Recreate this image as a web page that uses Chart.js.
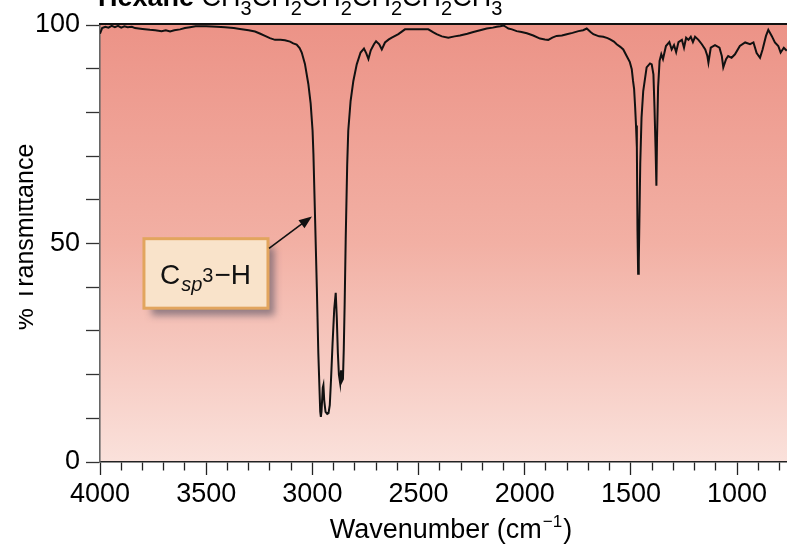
<!DOCTYPE html>
<html><head><meta charset="utf-8">
<script src="https://cdn.jsdelivr.net/npm/chart.js@4"></script>
<style>html,body{margin:0;padding:0;background:#fff;overflow:hidden}#wrap{width:787px;height:545px;position:relative}</style>
</head><body><div id="wrap"><canvas id="c" width="787" height="545"></canvas></div>
<script>
// ---- data ----
const wavenumbers = [4000,3990,3975,3960,3945,3930,3915,3900,3885,3870,3850,3835,3800,3765,3740,3710,3690,3670,3650,3623,3600,3576,3550,3500,3450,3411,3370,3341,3300,3270,3245,3223,3200,3176,3150,3129,3105,3090,3074,3060,3050,3035,3019,3008,2999,2995,2987,2979,2972,2967,2963,2960,2957,2951,2948,2944,2938,2930,2924,2918,2912,2905,2897,2890,2885,2880,2875,2869,2865,2861,2856,2852,2848,2843,2836,2831,2820,2807,2791,2773,2757,2746,2736,2725,2710,2700,2685,2673,2658,2640,2626,2595,2564,2509,2454,2430,2415,2390,2360,2330,2305,2270,2242,2210,2179,2150,2132,2115,2100,2090,2077,2060,2038,2015,1990,1960,1928,1905,1889,1870,1850,1825,1802,1775,1747,1725,1708,1690,1677,1650,1630,1610,1598,1580,1567,1550,1536,1520,1505,1496,1490,1485,1480,1476,1472,1469,1466,1463,1460,1456,1450,1442,1426,1410,1402,1394,1389,1384,1380,1377,1372,1365,1357,1349,1335,1319,1308,1297,1287,1276,1260,1250,1240,1229,1218,1208,1198,1182,1166,1150,1140,1135,1124,1104,1083,1072,1065,1052,1042,1026,1010,987,962,939,923,908,892,880,864,853,837,822,806,795,780,766];
const transmittance = [98.0,99.3,99.6,99.4,99.8,99.5,99.8,99.4,99.7,99.5,99.6,99.3,99.1,98.9,98.8,98.6,98.8,98.5,98.8,99.0,99.3,99.5,99.7,99.7,99.6,99.5,99.3,99.1,98.8,98.5,98.0,97.5,97.0,96.6,96.6,96.5,96.2,95.8,95.5,94.7,93.7,91.1,86.5,82.0,75.8,70.5,55.3,40.0,25.0,17.5,11.5,10.3,11.5,17.0,17.6,14.0,11.5,11.0,11.2,13.0,19.0,27.0,35.0,38.7,33.0,25.0,20.0,18.0,21.0,18.5,19.0,26.0,36.0,51.0,68.0,75.8,82.6,87.2,91.0,93.7,94.6,93.5,92.2,94.2,95.6,96.3,95.6,94.4,96.0,96.7,97.1,97.9,99.0,99.0,99.0,98.3,97.9,97.4,97.1,97.4,97.6,98.0,98.4,98.8,99.2,99.4,99.6,99.7,99.9,99.6,99.2,99.0,98.6,98.4,98.1,97.6,96.9,96.7,96.6,97.1,97.5,97.6,97.9,98.2,98.6,98.8,99.2,98.4,97.9,97.4,97.3,97.0,96.7,96.2,95.6,95.0,94.4,92.9,91.5,89.9,87.2,85.4,81.1,77.0,72.0,53.0,43.1,46.0,55.3,68.3,78.8,84.9,90.3,91.2,91.0,88.7,81.1,72.0,63.2,74.3,85.7,91.8,93.3,92.2,95.2,96.1,94.4,95.4,93.8,96.1,96.6,94.8,97.1,96.6,97.3,96.1,97.3,96.6,95.6,94.4,92.9,91.4,94.8,95.4,94.8,92.9,90.3,92.2,92.9,92.5,93.3,95.2,96.0,95.6,96.0,93.6,92.5,94.4,97.5,98.9,97.5,96.0,95.2,93.7,94.8,94.1];
const xTicks = [4000,3900,3800,3700,3600,3500,3400,3300,3200,3100,3000,2900,2800,2700,2600,2500,2400,2300,2200,2100,2000,1900,1800,1700,1600,1500,1400,1300,1200,1100,1000,900,800];
const xLabelTicks = [4000,3500,3000,2500,2000,1500,1000];
const yTicks = [0,10,20,30,40,50,60,70,80,90,100];
const yLabelTicks = [0,50,100];
const titleName = 'Hexane';
const titleFormula = [['CH',''],['3','sub'],['CH',''],['2','sub'],['CH',''],['2','sub'],['CH',''],['2','sub'],['CH',''],['2','sub'],['CH',''],['3','sub']];
const yTitle = '% Transmittance';
const xTitle = ['Wavenumber (cm', '\u22121', ')'];

// annotation anchored in data coordinates
const annotation = { box: {x1: 3793, x2: 3209, y1: 51.1, y2: 35.2}, from: {x: 3204, y: 48.9}, to: {x: 3002, y: 56.2} };

const FONT = '"Liberation Sans", Arial, Helvetica, sans-serif';
Chart.defaults.font.family = FONT;
Chart.defaults.color = '#000';

const decor = {
  id: 'decor',
  beforeDraw(chart) {
    const {ctx, chartArea: a} = chart;
    const g = ctx.createLinearGradient(0, a.top, 0, a.bottom);
    g.addColorStop(0, 'rgb(236,147,135)');
    g.addColorStop(0.5, 'rgb(242,176,164)');
    g.addColorStop(1, 'rgb(250,225,219)');
    ctx.save();
    ctx.fillStyle = g;
    ctx.fillRect(a.left, a.top, a.right - a.left, a.bottom - a.top);
    ctx.restore();
  },
  afterDraw(chart) {
    const {ctx, chartArea: a, scales} = chart;
    const X = v => scales.x.getPixelForValue(v), Y = v => scales.y.getPixelForValue(v);
    ctx.save();
    // top frame
    ctx.strokeStyle = '#111'; ctx.lineWidth = 2.2;
    ctx.beginPath(); ctx.moveTo(a.left - 1, a.top - 1); ctx.lineTo(a.right, a.top - 1); ctx.stroke();

    // title (cropped at top)
    ctx.fillStyle = '#000';
    ctx.textBaseline = 'alphabetic'; ctx.textAlign = 'left';
    let x = 98;
    ctx.font = 'bold 27px ' + FONT;
    ctx.fillText(titleName, x, 6);
    x += ctx.measureText(titleName + ' ').width;
    titleFormula.forEach(([t, k]) => {
      if (k === 'sub') { ctx.font = '20px ' + FONT; ctx.fillText(t, x, 15); }
      else { ctx.font = '27px ' + FONT; ctx.fillText(t, x, 6); }
      x += ctx.measureText(t).width;
    });

    // y title (cropped at left)
    ctx.save();
    ctx.translate(33, 237); ctx.rotate(-Math.PI / 2);
    ctx.font = '25px ' + FONT; ctx.textAlign = 'center';
    ctx.fillText(yTitle, 0, 0);
    ctx.restore();
    ctx.fillStyle = '#fff'; ctx.fillRect(0, 100, 19, 300);

    // x title
    ctx.fillStyle = '#000';
    ctx.font = '27px ' + FONT;
    const w0 = ctx.measureText(xTitle[0]).width, w2 = ctx.measureText(xTitle[2]).width;
    ctx.font = '17px ' + FONT;
    const w1 = ctx.measureText(xTitle[1]).width;
    let tx = 451 - (w0 + w1 + w2 + 2) / 2;
    ctx.font = '27px ' + FONT; ctx.fillText(xTitle[0], tx, 538); tx += w0 + 1;
    ctx.font = '17px ' + FONT; ctx.fillText(xTitle[1], tx, 527); tx += w1 + 1;
    ctx.font = '27px ' + FONT; ctx.fillText(xTitle[2], tx, 538);

    // annotation box
    const b = annotation.box;
    const bx = X(b.x1), by = Y(b.y1), bw = X(b.x2) - bx, bh = Y(b.y2) - by;
    ctx.save();
    ctx.shadowColor = 'rgba(70,70,90,0.55)'; ctx.shadowBlur = 7; ctx.shadowOffsetX = 7; ctx.shadowOffsetY = 8;
    ctx.fillStyle = '#F9E3CA'; ctx.fillRect(bx, by, bw, bh);
    ctx.restore();
    ctx.strokeStyle = '#E2A55E'; ctx.lineWidth = 3;
    ctx.strokeRect(bx, by, bw, bh);
    // label C_sp^3-H
    ctx.fillStyle = '#111';
    let lx = bx + 16; const base = by + 45;
    ctx.font = '28px ' + FONT; ctx.fillText('C', lx, base); lx += ctx.measureText('C').width + 1;
    ctx.font = 'italic 20px ' + FONT; ctx.fillText('sp', lx, base + 7); lx += ctx.measureText('sp').width;
    ctx.font = '20px ' + FONT; ctx.fillText('3', lx, base - 2); lx += ctx.measureText('3').width + 1;
    ctx.font = '28px ' + FONT; ctx.fillText('\u2212H', lx, base);

    // arrow
    const fx = X(annotation.from.x), fy = Y(annotation.from.y), ex = X(annotation.to.x), ey = Y(annotation.to.y);
    const ang = Math.atan2(ey - fy, ex - fx);
    ctx.strokeStyle = '#111'; ctx.lineWidth = 1.6;
    ctx.beginPath(); ctx.moveTo(fx, fy); ctx.lineTo(ex - 8 * Math.cos(ang), ey - 8 * Math.sin(ang)); ctx.stroke();
    ctx.fillStyle = '#111';
    ctx.beginPath();
    ctx.moveTo(ex, ey);
    ctx.lineTo(ex - 13 * Math.cos(ang) + 5 * Math.sin(ang), ey - 13 * Math.sin(ang) - 5 * Math.cos(ang));
    ctx.lineTo(ex - 13 * Math.cos(ang) - 5 * Math.sin(ang), ey - 13 * Math.sin(ang) + 5 * Math.cos(ang));
    ctx.closePath(); ctx.fill();
    ctx.restore();
  }
};

new Chart(document.getElementById('c'), {
  type: 'line',
  data: {
    datasets: [{
      data: wavenumbers.map((w, i) => ({x: w, y: transmittance[i]})),
      borderColor: '#111', borderWidth: 2, pointRadius: 0, tension: 0, fill: false
    }]
  },
  options: {
    responsive: false, animation: false, devicePixelRatio: 1,
    layout: {padding: {top: 25, right: 0, left: 0, bottom: 0}},
    plugins: {legend: {display: false}, tooltip: {enabled: false}, title: {display: false}},
    scales: {
      x: {
        type: 'linear', reverse: true, min: 765, max: 4000,
        afterBuildTicks: s => { s.ticks = xTicks.map(v => ({value: v})); },
        afterFit: s => { s.height = 83; },
        grid: {drawOnChartArea: false, tickLength: 13, tickWidth: 1.3, tickColor: '#222',
          tickBorderDash: c => (c.tick && xLabelTicks.includes(c.tick.value)) ? [] : [8, 40]},
        border: {display: true, color: '#222', width: 1.5},
        ticks: {autoSkip: false, maxRotation: 0, minRotation: 0, padding: 3, color: '#000', font: {size: 27},
          callback: v => xLabelTicks.includes(v) ? String(v) : ''}
      },
      y: {
        min: 0, max: 100,
        afterBuildTicks: s => { s.ticks = yTicks.map(v => ({value: v})); },
        afterFit: s => { s.width = 100; },
        grid: {drawOnChartArea: false, tickLength: 14, tickWidth: 1.3, tickColor: '#333'},
        border: {display: true, color: '#666', width: 1.6},
        ticks: {autoSkip: false, padding: 6, color: '#000', font: {size: 27},
          callback: v => yLabelTicks.includes(v) ? String(v) : ''}
      }
    }
  },
  plugins: [decor]
});
</script>
</body></html>
